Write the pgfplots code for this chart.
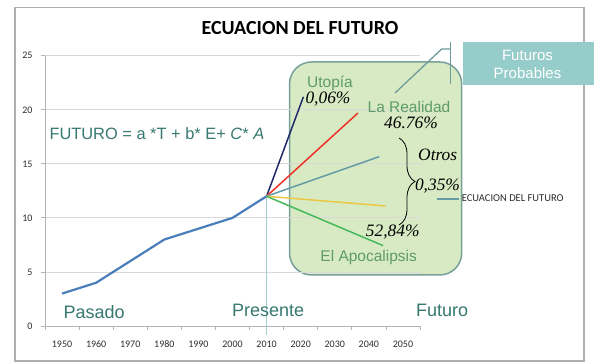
\documentclass[border=0pt]{standalone}
\usepackage{pgfplots}
\pgfplotsset{compat=1.18}
\usepackage{fontspec}
\setmainfont{Carlito}
\newfontfamily\arialf{Liberation Sans}
\newfontfamily\serf{Liberation Serif}
\usetikzlibrary{decorations.pathreplacing}
\definecolor{bordergray}{RGB}{175,175,175}
\definecolor{axisgray}{RGB}{180,180,180}
\definecolor{gridgray}{RGB}{217,217,217}
\definecolor{ticktext}{RGB}{45,45,45}
\definecolor{boxfill}{RGB}{215,234,195}
\definecolor{boxedge}{RGB}{120,160,155}
\definecolor{calloutfill}{RGB}{150,204,202}
\definecolor{calloutline}{RGB}{110,155,155}
\definecolor{greentext}{RGB}{95,155,105}
\definecolor{tealtext}{RGB}{55,120,112}
\definecolor{pasado}{RGB}{74,126,187}
\definecolor{navyl}{RGB}{31,42,107}
\definecolor{redl}{RGB}{238,50,40}
\definecolor{teall}{RGB}{100,155,165}
\definecolor{yellowl}{RGB}{235,200,70}
\definecolor{greenl}{RGB}{70,185,90}
\definecolor{vline}{RGB}{165,205,205}
\begin{document}
\begin{tikzpicture}
\begin{scope}[x=1pt,y=1pt]
\useasboundingbox (0,0) rectangle (611,364);
\fill[white] (0,0) rectangle (611,364);
\draw[bordergray, line width=1.3] (15,3) rectangle (584,356.3);
\node[anchor=base, inner sep=0pt, font=\bfseries\fontsize{20}{23}\selectfont] at (300,329) {ECUACION DEL FUTURO};
\draw[boxedge, fill=boxfill, line width=1.5, rounded corners=22] (289.5,89) rectangle (461.7,302);
\end{scope}
\begin{axis}[
  at={(45pt,38pt)}, anchor=south west, scale only axis,
  width=375pt, height=270.3pt,
  xmin=1945, xmax=2055, ymin=0, ymax=25,
  axis x line*=bottom, axis y line*=left,
  axis line style={axisgray, line width=0.8, -},
  xtick={1945,1955,...,2055},
  xticklabels={1950,1960,1970,1980,1990,2000,2010,2020,2030,2040,2050,{}},
  ytick={0,5,...,25},
  yticklabels={0,5,10,15,20,25},
  tick align=outside, major tick length=4pt,
  tick style={axisgray, line width=0.8},
  ymajorgrids, grid style={gridgray, line width=0.8},
  xticklabel style={font=\fontsize{10}{12}\selectfont, text=ticktext, xshift=17.05pt, yshift=-7pt,
    text height=6.5pt, text depth=0pt},
  yticklabel style={font=\fontsize{10}{12}\selectfont, text=ticktext, xshift=-5pt,
    text height=6.5pt, text depth=0pt},
  clip=false,
  legend style={at={(axis description cs:1.0419,0.47)}, anchor=west, draw=none, fill=none,
    inner sep=0pt, font=\fontsize{10.5}{12}\selectfont, text=ticktext,
    nodes={inner sep=1.5pt}},
  legend image code/.code={\draw[#1] (0pt,0pt) -- (22.6pt,0pt);},
]
\addlegendimage{draw=teall, line width=1.8}
\addlegendentry{ECUACION DEL FUTURO}
\addplot[vline, line width=0.9, forget plot] coordinates {(2010,12) (2010,-0.85)};
\addplot[pasado, line width=2.2, forget plot] coordinates {(1950,3) (1960,4) (1980,8) (2000,10) (2010,12)};
\addplot[navyl, line width=1.5, forget plot] coordinates {(2010,12) (2020.8,21.2)};
\addplot[redl, line width=1.5, forget plot] coordinates {(2010,12) (2036.8,19.7)};
\addplot[teall, line width=1.5, forget plot] coordinates {(2010,12) (2043.0,15.66)};
\addplot[yellowl, line width=1.5, forget plot] coordinates {(2010,12) (2044.9,11.1)};
\addplot[greenl, line width=1.5, forget plot] coordinates {(2010,12) (2044.2,7.43)};
\end{axis}
\begin{scope}[x=1pt,y=1pt]
% callout
\fill[calloutfill] (462.5,279) rectangle (594,322);
\node[align=center, text=white, inner sep=0pt, font=\arialf\fontsize{15}{18}\selectfont] at (527.5,300) {Futuros\\Probables};
\draw[calloutline, line width=1.3] (450.7,322) -- (450.7,280);
\draw[calloutline, line width=1.3] (450.7,315) -- (441.7,315) -- (395,271);
% texts in box
\begin{scope}[every node/.style={inner sep=0pt, anchor=base}]
\node[text=greentext, font=\arialf\fontsize{15.5}{18}\selectfont] at (330,276.5) {Utopía};
\node[font=\serf\itshape\fontsize{17.4}{20}\selectfont] at (328,260.3) {0,06\%};
\node[text=greentext, font=\arialf\fontsize{15.5}{18}\selectfont] at (409,251.3) {La Realidad};
\node[font=\serf\itshape\fontsize{17.4}{20}\selectfont] at (411,235.7) {46.76\%};
\node[font=\serf\itshape\fontsize{17.4}{20}\selectfont] at (437.7,203.3) {Otros};
\node[font=\serf\itshape\fontsize{17.4}{20}\selectfont] at (437.5,173.3) {0,35\%};
\node[font=\serf\itshape\fontsize{17.4}{20}\selectfont] at (392.7,127.3) {52,84\%};
\node[text=greentext, font=\arialf\fontsize{15.5}{18}\selectfont] at (368.7,102.3) {El Apocalipsis};
\node[anchor=base west, text=tealtext, font=\arialf\fontsize{16.4}{19}\selectfont] at (49.3,224) {FUTURO = a *T + b* E+ \textit{C}* \textit{A}};
\node[anchor=base west, text=tealtext, font=\arialf\fontsize{18}{21}\selectfont] at (63.3,45.5) {Pasado};
\node[anchor=base west, text=tealtext, font=\arialf\fontsize{18}{21}\selectfont] at (231.8,47) {Presente};
\node[anchor=base west, text=tealtext, font=\arialf\fontsize{18}{21}\selectfont] at (416,47) {Futuro};
\end{scope}
\draw[decorate, decoration={brace, amplitude=16pt}, line width=0.8] (399,226) -- (399,139);
\end{scope}
\end{tikzpicture}
\end{document}
